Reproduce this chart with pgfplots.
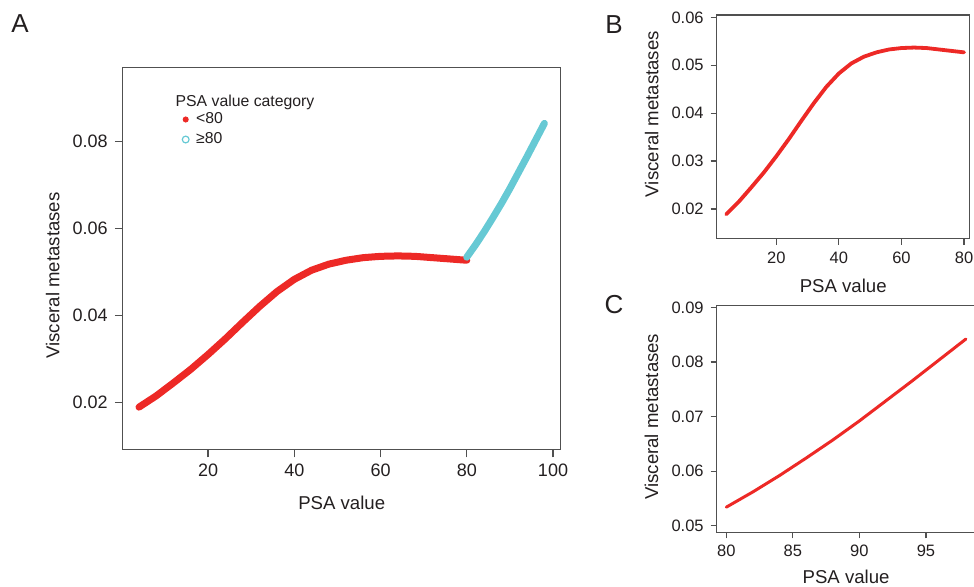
\documentclass[border=0pt]{standalone}
\usepackage{fontspec}
\setmainfont{Liberation Sans}
\usepackage{pgfplots}
\usepackage{pgfplotstable}
\pgfplotsset{compat=1.18}

\definecolor{psared}{RGB}{237,41,38}
\definecolor{psacyan}{RGB}{102,201,212}
\definecolor{axgray}{RGB}{80,80,80}
\definecolor{txt}{RGB}{35,31,32}

% PSA < 80
\pgfplotstableread{
psa vm
4  0.0189
8  0.0215
12 0.0245
16 0.0276
20 0.0310
24 0.0346
28 0.0384
32 0.0421
36 0.0455
40 0.0483
44 0.0504
48 0.0518
52 0.0527
56 0.0533
60 0.0536
64 0.0537
68 0.0536
72 0.0533
76 0.0530
80 0.0527
}\lowpsa

% PSA >= 80
\pgfplotstableread{
psa vm
80 0.0534
82 0.0562
84 0.0592
86 0.0624
88 0.0657
90 0.0692
92 0.0729
94 0.0766
96 0.0804
98 0.0842
}\highpsa

\pgfplotsset{
  panel/.style={
    scale only axis, anchor=south west,
    axis line style={axgray, line width=0.6pt},
    tick style={axgray, line width=0.6pt},
    tick align=outside, xtick pos=lower, ytick pos=left,
    scaled y ticks=false, scaled x ticks=false,
    tick label style={text=txt},
    label style={text=txt, font=\fontsize{9.3}{10}\selectfont},
    xlabel={PSA value}, ylabel={Visceral metastases},
  },
}

\begin{document}
\begin{tikzpicture}
\useasboundingbox (0,0) rectangle (487pt,293.5pt);

% panel A
\begin{axis}[panel,
  at={(61.4pt,68.85pt)}, width=218.9pt, height=191pt,
  xmin=0.24, xmax=101.76, ymin=0.0092, ymax=0.0971,
  major tick length=4pt,
  xtick={20,40,60,80,100}, xticklabels={20,40,60,80,100},
  ytick={0.02,0.04,0.06,0.08}, yticklabels={0.02,0.04,0.06,0.08},
  tick label style={font=\fontsize{9}{10}\selectfont},
  xlabel style={at={(axis description cs:0.5,-0.14)}, anchor=center},
  ylabel style={at={(axis description cs:-0.16,0.455)}, anchor=center},
  legend style={at={(axis description cs:0.135,0.888)}, anchor=north west,
    draw=none, fill=none, font=\fontsize{7.9}{8}\selectfont, text=txt,
    row sep=1pt, column sep=2.5pt, inner sep=0pt, nodes={inner sep=1pt}},
  legend cell align=left,
  legend image code/.code={\draw[#1] plot coordinates {(0pt,0pt)};},
]
\addplot[psared, line width=3.5pt, line cap=round, forget plot] table[x=psa, y=vm] {\lowpsa};
\addplot[psacyan, line width=3.5pt, line cap=round, forget plot] table[x=psa, y=vm] {\highpsa};
\addlegendimage{only marks, mark=*, mark size=1.3pt, psared}
\addlegendentry{<80}
\addlegendimage{only marks, mark=o, mark size=1.7pt, line width=0.6pt, psacyan}
\addlegendentry{≥80}
\node[anchor=west, font=\fontsize{7.9}{8}\selectfont, text=txt, inner sep=0pt]
  at (axis cs:12.4,0.0890) {PSA value category};
\end{axis}

% panel B
\begin{axis}[panel,
  at={(358.35pt,174.15pt)}, width=126.5pt, height=111.85pt,
  xmin=0.96, xmax=81.8, ymin=0.0138, ymax=0.0605,
  major tick length=3pt,
  xtick={20,40,60,80}, xticklabels={20,40,60,80},
  ytick={0.02,0.03,0.04,0.05,0.06}, yticklabels={0.02,0.03,0.04,0.05,0.06},
  tick label style={font=\fontsize{8.25}{9}\selectfont},
  xlabel style={at={(axis description cs:0.5,-0.21)}, anchor=center},
  ylabel style={at={(axis description cs:-0.257,0.557)}, anchor=center},
]
\addplot[psared, line width=1.9pt, line cap=round] table[x=psa, y=vm] {\lowpsa};
\end{axis}

% panel C
\begin{axis}[panel,
  at={(358.35pt,27.35pt)}, width=129.4pt, height=113.3pt,
  xmin=79.28, xmax=98.72, ymin=0.0488, ymax=0.0903,
  major tick length=3pt,
  xtick={80,85,90,95}, xticklabels={80,85,90,95},
  ytick={0.05,0.06,0.07,0.08,0.09}, yticklabels={0.05,0.06,0.07,0.08,0.09},
  tick label style={font=\fontsize{8.25}{9}\selectfont},
  xlabel style={at={(axis description cs:0.5,-0.197)}, anchor=center},
  ylabel style={at={(axis description cs:-0.252,0.51)}, anchor=center},
]
\addplot[psared, line width=1.5pt, line cap=round] table[x=psa, y=vm] {\highpsa};
\end{axis}

% panel letters
\node[font=\fontsize{13}{14}\selectfont, text=txt] at (10pt,281.5pt) {A};
\node[font=\fontsize{13}{14}\selectfont, text=txt] at (307pt,281pt) {B};
\node[font=\fontsize{13}{14}\selectfont, text=txt] at (307pt,141pt) {C};
\end{tikzpicture}
\end{document}
